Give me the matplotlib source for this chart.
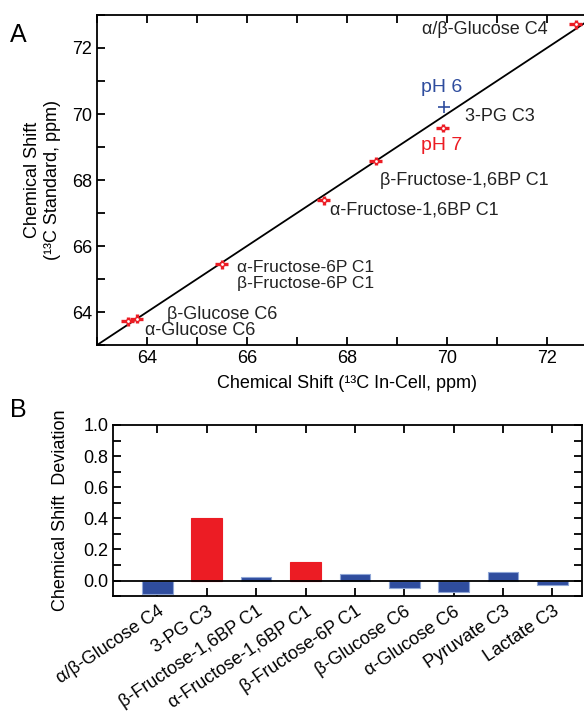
import matplotlib.pyplot as plt
from matplotlib.ticker import MultipleLocator

plt.rcParams['font.family'] = ['Liberation Sans', 'DejaVu Sans']

# panel A: in-cell vs standard 13C shifts
incell = [72.58, 69.92, 68.58, 67.54, 65.5, 63.62, 63.8]
standard = [72.72, 69.58, 68.58, 67.38, 65.45, 63.72, 63.8]
ph6_x, ph6_y = 69.94, 70.22

# panel B: deviation per resonance
names = ['\u03b1/\u03b2-Glucose C4', '3-PG C3', '\u03b2-Fructose-1,6BP C1',
         '\u03b1-Fructose-1,6BP C1', '\u03b2-Fructose-6P C1', '\u03b2-Glucose C6',
         '\u03b1-Glucose C6', 'Pyruvate C3', 'Lactate C3']
deviation = [-0.085, 0.40, 0.022, 0.12, 0.04, -0.048, -0.075, 0.057, -0.028]
is_red = [False, True, False, True, False, False, False, False, False]

RED = '#ec1c24'
BLUE = '#2f4d9e'

fig = plt.figure(figsize=(5.84, 7.13), dpi=100)

ax = fig.add_axes([0.166, 0.516, 0.856, 0.463])
ax.plot([63, 73], [63, 73], color='black', lw=1.3, zorder=1)
ax.errorbar(incell, standard, xerr=0.13, yerr=0.13, fmt='o', ms=3,
            mfc='white', mec=RED, mew=1.0, ecolor=RED, elinewidth=2.4,
            capsize=0, zorder=3)
ax.plot(ph6_x, ph6_y, marker='+', ms=8, mew=1.2, color=BLUE, zorder=3)
ax.set_xlim(63, 73)
ax.set_ylim(63, 73)
ax.xaxis.set_major_locator(MultipleLocator(2))
ax.xaxis.set_minor_locator(MultipleLocator(1))
ax.yaxis.set_major_locator(MultipleLocator(2))
ax.yaxis.set_minor_locator(MultipleLocator(1))
ax.tick_params(which='both', direction='in', top=True, right=True,
               labelsize=13, width=1.3, length=6)
for s in ax.spines.values():
    s.set_linewidth(1.3)
ax.set_xlabel('Chemical Shift (\u00b9\u00b3C In-Cell, ppm)', fontsize=13, labelpad=6)
ax.set_ylabel('Chemical Shift\n(\u00b9\u00b3C Standard, ppm)', fontsize=13, labelpad=8)

lab = dict(fontsize=13, color='#222222')
ax.text(72.02, 72.55, '\u03b1/\u03b2-Glucose C4', ha='right', va='center', **lab)
ax.text(69.9, 70.79, 'pH 6', ha='center', va='center', fontsize=14, color=BLUE)
ax.text(70.36, 69.93, '3-PG C3', ha='left', va='center', **lab)
ax.text(69.9, 69.04, 'pH 7', ha='center', va='center', fontsize=14, color=RED)
ax.text(68.66, 67.98, '\u03b2-Fructose-1,6BP C1', ha='left', va='center', **lab)
ax.text(67.66, 67.1, '\u03b1-Fructose-1,6BP C1', ha='left', va='center', **lab)
ax.text(65.8, 65.36, '\u03b1-Fructose-6P C1', ha='left', va='center',
        fontsize=12.5, color='#222222')
ax.text(65.8, 64.88, '\u03b2-Fructose-6P C1', ha='left', va='center',
        fontsize=12.5, color='#222222')
ax.text(64.4, 63.94, '\u03b2-Glucose C6', ha='left', va='center', **lab)
ax.text(63.96, 63.43, '\u03b1-Glucose C6', ha='left', va='center', **lab)

fig.text(0.017, 0.951, 'A', fontsize=18, va='center')
fig.text(0.017, 0.425, 'B', fontsize=18, va='center')

bx = fig.add_axes([0.1935, 0.164, 0.803, 0.240])
pos = list(range(len(names)))
colors = [RED if r else BLUE for r in is_red]
edges = [RED if r else '#8fa6d6' for r in is_red]
bx.bar(pos, deviation, width=0.62, color=colors, edgecolor=edges, lw=0.8, zorder=2)
bx.axhline(0, color='black', lw=1.3, zorder=3)
bx.set_xlim(-0.9, 8.6)
bx.set_ylim(-0.1, 1.0)
bx.set_xticks(pos)
bx.set_xticklabels(names, rotation=34, ha='right', rotation_mode='anchor',
                   fontsize=12.5)
bx.yaxis.set_major_locator(MultipleLocator(0.2))
bx.yaxis.set_minor_locator(MultipleLocator(0.1))
bx.tick_params(which='both', direction='in', top=True, right=True,
               labelsize=13, width=1.3, length=6)
bx.tick_params(axis='x', pad=5)
for s in bx.spines.values():
    s.set_linewidth(1.3)
bx.set_ylabel('Chemical Shift  Deviation', fontsize=13, labelpad=10)

fig.savefig('out.png', dpi=100)
